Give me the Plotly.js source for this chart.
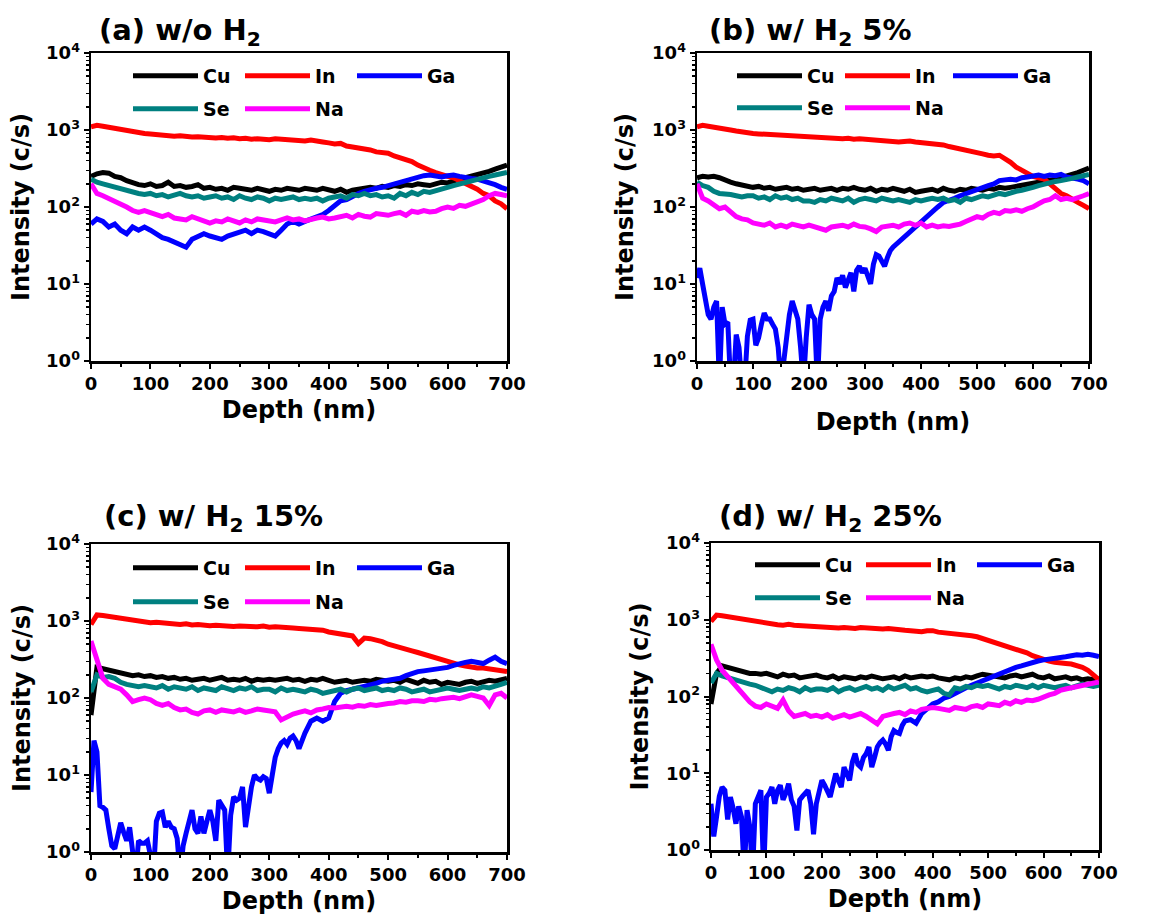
<!DOCTYPE html>
<html>
<head>
<meta charset="utf-8">
<script src="https://cdn.plot.ly/plotly-3.0.1.min.js"></script>
<style>html,body{margin:0;padding:0;background:#fff;}#chart{width:1152px;height:915px;}</style>
</head>
<body>
<div id="chart"></div>
<script>
// Depth grid (nm), 10 nm sampling
const depth = [];
for (let i = 0; i <= 70; i++) depth.push(i * 10);
// Depth grid for the noisy Ga profiles: 5 nm up to 350 nm, then 10 nm
const depthGa = [];
for (let i = 0; i <= 70; i++) depthGa.push(i * 5);
for (let i = 36; i <= 70; i++) depthGa.push(i * 10);

const elements = ['Cu', 'In', 'Ga', 'Se', 'Na'];
const panelTitles = ['(a) w/o H<sub>2</sub>', '(b) w/ H<sub>2</sub> 5%', '(c) w/ H<sub>2</sub> 15%', '(d) w/ H<sub>2</sub> 25%'];
const yTickVals = [1, 10, 100, 1000, 10000];
const yTickText = ['10<sup>0</sup>', '10<sup>1</sup>', '10<sup>2</sup>', '10<sup>3</sup>', '10<sup>4</sup>'];

// ---- (a) w/o H2 ----
const cuA = [250,270,280,275,250,240,220,205,195,190,
 200,185,190,210,185,190,180,185,195,175,
 180,170,175,165,180,175,170,165,175,165,
 160,170,165,175,170,165,175,170,165,175,
 165,160,170,155,165,170,175,180,175,185,
 180,190,185,195,190,200,195,190,200,210,
 205,220,230,240,250,270,280,290,310,330,
 350];
const inA = [1100,1150,1120,1080,1050,1020,980,960,930,900,
 890,870,850,860,830,840,820,810,820,800,
 800,790,800,780,790,770,780,760,770,760,
 750,770,760,740,750,730,720,740,730,700,
 680,660,670,620,600,590,570,550,520,510,
 500,460,440,420,390,350,320,300,280,260,
 250,240,220,200,190,170,150,140,120,110,
 95];
const gaA = [60,70,65,55,60,50,45,55,50,55,
 50,45,40,38,35,32,30,38,42,45,
 42,40,38,42,45,48,50,45,50,48,
 45,42,50,60,65,60,65,70,75,80,
 90,105,120,125,140,150,160,170,175,180,
 190,200,210,220,235,250,255,260,250,245,
 255,260,250,240,235,230,220,210,195,180,
 170];
const seA = [230,210,200,190,180,170,160,155,150,145,
 150,140,145,135,140,150,140,135,140,130,
 135,140,130,135,125,140,130,125,135,130,
 120,130,125,130,135,125,130,125,130,120,
 130,135,140,130,145,140,150,140,145,135,
 140,130,150,140,155,145,160,155,165,170,
 180,190,200,210,220,230,240,250,260,270,
 280];
const naA = [200,150,140,130,120,110,100,90,85,90,
 85,80,75,80,72,70,68,75,70,65,
 62,66,64,70,66,62,68,64,70,68,
 66,64,68,72,68,70,66,70,72,74,
 70,72,75,78,72,80,76,74,82,80,
 78,82,85,78,88,85,90,86,88,95,
 100,96,105,102,110,115,125,140,150,145,
 140];

// ---- (b) w/ H2 5% ----
const cuB = [240,250,245,250,240,220,210,200,195,190,
 180,185,175,180,170,175,180,170,175,165,
 170,175,165,170,175,165,175,170,180,170,
 165,175,160,170,165,175,165,160,170,155,
 160,165,170,160,175,165,160,170,165,175,
 170,165,175,170,180,175,180,185,190,200,
 205,210,215,220,230,240,250,260,280,300,
 320];
const inB = [1100,1150,1120,1080,1060,1020,1000,970,940,920,
 900,890,880,870,860,850,840,830,820,810,
 800,800,790,780,790,780,770,780,760,770,
 760,740,750,720,730,720,700,710,720,700,
 690,680,660,650,640,610,590,570,560,540,
 520,490,470,460,470,430,380,330,300,270,
 250,240,230,200,170,150,140,125,115,105,
 95];
const gaB = [12,16,10,5.7,4,3.5,5,6,0.5,5,
 3,3.2,0.5,0.5,2.2,1.5,0.5,0.5,2.1,3.4,
 3.5,1.6,2,3,4.2,3.5,3.5,3,2.6,1.5,
 0.5,1,2.3,4,6,4.5,3.5,1.5,0.5,2,
 5.4,4,3.5,0.5,3.5,5,6,4.5,7,8,
 12,10,13,9,12,14,8,15,17,14,
 16,12,10,18,24,23,20,17,22,27,
 30,
 35,40,48,55,65,75,90,100,115,120,
 130,140,150,160,170,180,190,200,220,225,
 230,225,240,245,255,260,250,260,255,265,
 245,240,230,220,200];
const seB = [210,190,180,160,150,150,145,140,135,140,
 140,130,135,125,140,130,135,125,130,120,
 120,115,125,120,130,125,120,130,115,125,
 130,125,120,130,125,120,125,120,115,125,
 120,125,130,125,130,120,125,115,130,125,
 130,140,135,145,150,145,155,160,165,170,
 180,190,200,210,215,220,225,235,245,255,
 265];
const naB = [200,130,120,105,95,100,85,75,70,68,
 62,60,58,62,55,58,55,60,57,55,
 58,55,52,50,55,57,58,55,60,56,
 55,52,48,55,56,58,55,60,62,58,
 62,55,58,55,57,56,58,60,65,70,
 75,72,80,85,82,90,88,92,88,95,
 100,110,120,125,140,125,130,125,135,140,
 150];

// ---- (c) w/ H2 15% ----
const cuC = [60,250,240,230,220,210,200,195,200,190,
 195,185,190,180,185,175,180,170,175,180,
 170,175,185,170,175,170,180,165,175,170,
 175,170,175,180,170,175,165,175,170,180,
 170,160,165,170,160,165,170,165,175,170,
 165,170,160,175,165,155,170,160,165,150,
 160,155,150,160,165,155,160,170,165,175,
 180];
const inC = [900,1200,1180,1150,1100,1080,1050,1000,980,960,
 950,960,940,920,930,900,920,890,900,880,
 870,880,860,870,850,860,850,870,840,860,
 830,840,820,830,810,800,790,770,780,760,
 720,700,680,660,640,510,600,590,570,540,
 500,480,450,430,410,390,370,350,330,310,
 290,280,270,260,250,245,245,240,235,225,
 220];
const gaC = [6,28,20,4,3.8,3.5,2,1.2,1.1,1.75,
 2.4,1.8,1.4,2.1,1.2,0.5,1.4,1.3,1.3,1.4,
 0.9,0.5,2.5,3.2,3.3,2.1,2.5,2.1,2,1.5,
 0.5,1.2,1.75,2.5,3.5,2,1.75,2.9,1.75,2.5,
 3.5,2.5,1.4,4.7,4,3.5,0.5,3,5.2,4.7,
 5,7,2.1,4,7,10,9,8.6,9.5,9,
 5.8,10,17,22,26,28,25,30,32,28,
 22,
 35,50,55,50,55,90,115,125,130,135,
 140,150,155,165,170,175,180,195,210,220,
 225,230,240,245,250,265,280,290,300,290,
 280,310,340,300,280];
const seC = [120,200,185,190,180,160,150,145,140,145,
 140,135,145,130,140,135,130,140,125,135,
 130,125,140,130,125,135,130,140,125,130,
 130,120,135,125,130,125,120,130,125,115,
 120,125,130,120,130,135,125,130,135,125,
 130,125,135,130,120,125,130,120,125,130,
 135,130,125,130,135,130,140,135,140,150,
 160];
const naC = [550,300,180,150,140,130,110,90,95,100,
 95,85,80,85,75,70,72,65,62,68,
 70,65,70,68,66,70,65,68,72,70,
 68,66,52,58,62,65,68,64,70,72,
 75,74,76,78,76,80,78,82,80,84,
 85,86,90,88,92,92,90,96,94,98,
 100,102,98,105,110,105,100,80,110,115,
 100];

// ---- (d) w/ H2 25% ----
const cuD = [80,200,250,240,230,220,210,200,200,195,
 200,190,180,195,185,190,175,180,185,190,
 180,175,185,170,180,175,170,180,175,185,
 180,170,175,180,170,185,175,180,185,180,
 185,175,170,165,175,170,180,175,185,195,
 190,185,180,175,185,190,180,185,195,180,
 175,185,170,175,180,170,175,165,170,165,
 170];
const inD = [950,1150,1130,1100,1050,1020,1000,960,940,920,
 900,880,860,850,870,850,840,820,830,800,
 800,790,800,780,790,780,770,790,780,770,
 780,760,770,750,740,730,720,700,700,720,
 720,690,680,660,650,660,640,620,600,570,
 540,510,490,470,440,420,400,370,340,320,
 300,290,280,280,270,265,255,240,220,190,
 165];
const gaD = [4,1.5,2.7,5,6.6,6,2.5,4.9,3.5,2.2,
 3.7,2.7,0.5,3.3,2,0.5,4,5,6,0.5,
 4.9,5.5,6.6,4,6,7,4.5,5.5,7.3,4.5,
 3.7,1.8,4.5,5,5.4,6,4,1.6,4,6,
 8.1,7,6,4.9,7,9.9,8,6.6,12,10,
 8.1,14,18,13,12,16,18,22,12,16,
 22,25,27,24,20,30,36,34,33,42,
 48,
 50,45,60,70,80,85,95,100,110,120,
 130,140,150,160,175,185,200,215,230,240,
 250,265,280,290,300,310,320,325,330,340,
 350,345,355,345,330];
const seD = [150,200,185,175,170,160,150,145,140,130,
 120,115,125,120,130,125,115,130,120,125,
 125,120,130,115,125,130,120,125,135,125,
 130,120,135,125,130,140,125,130,120,115,
 120,125,110,105,130,125,135,130,140,135,
 140,130,125,135,130,140,135,130,140,130,
 140,135,130,135,140,130,135,145,140,135,
 140];
const naD = [480,300,220,180,150,120,100,85,75,72,
 80,75,70,90,65,55,58,60,55,57,
 54,58,52,56,58,54,56,60,55,50,
 44,55,58,60,62,58,65,62,68,70,
 72,70,68,66,72,70,68,74,76,72,
 80,78,76,84,80,88,84,90,88,92,
 100,105,110,120,125,130,135,140,145,150,
 155];

const panelData = [
  [cuA, inA, gaA, seA, naA],
  [cuB, inB, gaB, seB, naB],
  [cuC, inC, gaC, seC, naC],
  [cuD, inD, gaD, seD, naD]
];
const colors = ['#000000', '#ff0000', '#0000ff', '#008080', '#ff00ff'];

const W = 1152, H = 915;
const FONT = 'DejaVu Sans';
const bold = (size) => ({family: FONT, size: size, weight: 'bold', color: '#000'});

// plot areas in pixels [left, right, top, bottom]
const boxes = [
  [91, 507, 53, 361],
  [697, 1089, 53, 361],
  [91, 507, 544, 852],
  [711, 1099, 543, 850]
];
const xStandoff = [8, 20, 8, 8];
const yStandoff = [10, 12, 9, 11];
const titlePos = [[97, 32], [707, 32], [102, 518], [717, 518]];
const legendPos = [
  [[128, 76], [128, 109]],
  [[732, 76], [732, 108]],
  [[128, 568], [128, 602]],
  [[750, 565], [750, 598]]
];
const legendEntry = [32, 28, 32, 31];

const minorLog = [];
for (let d = 0; d < 4; d++) for (let m = 2; m <= 9; m++) minorLog.push(m * Math.pow(10, d));

const traces = [];
const layout = {
  width: W, height: H,
  margin: {l: 0, r: 0, t: 0, b: 0},
  paper_bgcolor: '#fff', plot_bgcolor: '#fff',
  showlegend: true,
  annotations: []
};

for (let p = 0; p < 4; p++) {
  const [l, r, t, b] = boxes[p];
  const sfx = p === 0 ? '' : String(p + 1);
  layout['xaxis' + sfx] = {
    domain: [l / W, r / W], anchor: 'y' + sfx,
    range: [0, 700], tick0: 0, dtick: 100,
    ticks: 'outside', ticklen: 5, tickwidth: 2, tickcolor: '#000',
    showline: true, linewidth: 2.5, linecolor: '#000', mirror: true,
    showgrid: false, zeroline: false,
    minor: {dtick: 50, ticks: 'outside', ticklen: 3, tickwidth: 2, tickcolor: '#000', showgrid: false},
    tickfont: bold(18),
    title: {text: 'Depth (nm)', font: bold(24), standoff: xStandoff[p]},
    automargin: false
  };
  layout['yaxis' + sfx] = {
    domain: [1 - b / H, 1 - t / H], anchor: 'x' + sfx,
    type: 'log', range: [0, 4],
    tickmode: 'array', tickvals: yTickVals, ticktext: yTickText,
    ticks: 'outside', ticklen: 5, tickwidth: 2, tickcolor: '#000',
    showline: true, linewidth: 2.5, linecolor: '#000', mirror: true,
    showgrid: false, zeroline: false,
    minor: {tickmode: 'array', tickvals: minorLog, ticks: 'outside', ticklen: 3, tickwidth: 1.5, tickcolor: '#000', showgrid: false},
    tickfont: bold(18),
    title: {text: 'Intensity (c/s)', font: bold(24), standoff: yStandoff[p]},
    automargin: false
  };
  layout.annotations.push({
    text: panelTitles[p], xref: 'paper', yref: 'paper',
    x: titlePos[p][0] / W, y: 1 - titlePos[p][1] / H,
    xanchor: 'left', yanchor: 'middle', showarrow: false,
    font: bold(29)
  });
  const legIds = ['legend' + (p === 0 ? '' : String(2 * p + 1)), 'legend' + String(2 * p + 2)];
  for (let k = 0; k < 2; k++) {
    layout[legIds[k]] = {
      orientation: 'h',
      x: legendPos[p][k][0] / W, xanchor: 'left',
      y: 1 - legendPos[p][k][1] / H, yanchor: 'middle',
      bgcolor: 'rgba(0,0,0,0)', borderwidth: 0,
      font: bold(19), itemwidth: 65,
      entrywidth: legendEntry[p], entrywidthmode: 'pixels',
      itemclick: false, itemdoubleclick: false
    };
  }
  for (let e = 0; e < 5; e++) {
    traces.push({
      type: 'scatter', mode: 'lines',
      x: (e === 2 && p > 0) ? depthGa : depth,
      y: panelData[p][e],
      xaxis: 'x' + sfx, yaxis: 'y' + sfx,
      name: elements[e],
      line: {color: colors[e], width: 5},
      legend: e < 3 ? legIds[0] : legIds[1],
      showlegend: true
    });
  }
}

Plotly.newPlot('chart', traces, layout, {displayModeBar: false, staticPlot: true});
</script>
</body>
</html>
